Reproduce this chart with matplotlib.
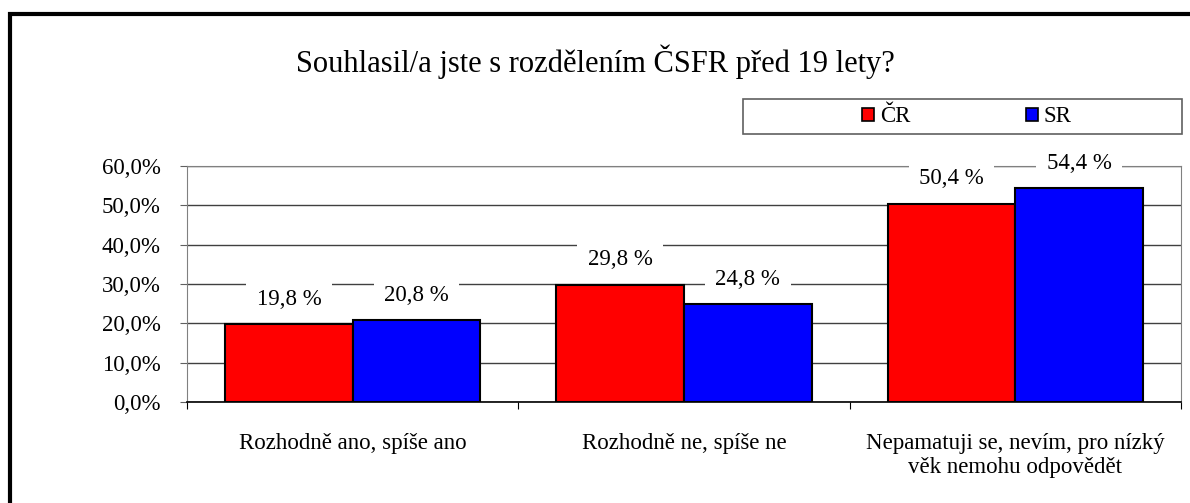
import matplotlib
matplotlib.use("Agg")
from matplotlib import pyplot as plt
from matplotlib.patches import Rectangle, Patch

# data
categories = ["Rozhodně ano, spíše ano", "Rozhodně ne, spíše ne",
              "Nepamatuji se, nevím, pro nízký\nvěk nemohu odpovědět"]
cr_values = [19.8, 29.8, 50.4]
sr_values = [20.8, 24.8, 54.4]
series_names = ["ČR", "SR"]
y_ticks = [0, 10, 20, 30, 40, 50, 60]
title = "Souhlasil/a jste s rozdělením ČSFR před 19 lety?"

plt.rcParams["font.family"] = ["Liberation Serif", "DejaVu Serif"]
fs = 16.5

W, H = 1190, 503
fig = plt.figure(figsize=(W / 100, H / 100), dpi=100)
ax = fig.add_axes([187 / W, 101 / H, (1181 - 187) / W, (402 - 166) / H])

# outer frame of the chart
fig.patches.append(Rectangle((10 / W, -0.2), 1.2, 0.2 + (H - 14) / H,
                             transform=fig.transFigure, fill=False,
                             edgecolor="black", linewidth=3))

w = 0.385
x = list(range(len(categories)))
bars_cr = ax.bar([i - w / 2 for i in x], cr_values, w, color="#ff0000",
                 edgecolor="black", linewidth=1.5, zorder=3)
bars_sr = ax.bar([i + w / 2 for i in x], sr_values, w, color="#0000ff",
                 edgecolor="black", linewidth=1.5, zorder=3)

for bars in (bars_cr, bars_sr):
    for b in bars:
        v = b.get_height()
        ax.annotate(f"{v:.1f} %".replace(".", ","),
                    (b.get_x() + b.get_width() / 2, v),
                    xytext=(0, 18), textcoords="offset points",
                    ha="center", va="center", fontsize=fs, zorder=4,
                    bbox=dict(boxstyle="square,pad=0.45", fc="white", ec="none"))

ax.set_xlim(-0.5, 2.5)
ax.set_ylim(0, 60)
ax.set_yticks(y_ticks)
ax.set_yticklabels([f"{t:.1f}%".replace(".", ",") for t in y_ticks], fontsize=fs)
ax.yaxis.grid(True, color="#404040", linewidth=1, zorder=0)
ax.set_axisbelow(True)

ax.set_xticks([-0.5, 0.5, 1.5, 2.5])
ax.set_xticklabels([])
ax.set_xticks(x, minor=True)
ax.set_xticklabels(categories, minor=True, fontsize=fs, linespacing=1.2)
ax.tick_params(axis="x", which="minor", length=0, pad=22)
ax.tick_params(axis="x", which="major", length=5, color="black")
ax.tick_params(axis="y", length=5, color="#606060", pad=14)

for s in ("left", "right", "top"):
    ax.spines[s].set_color("#808080")
ax.spines["bottom"].set_color("black")
ax.spines["bottom"].set_linewidth(1.2)

fig.text(595 / W, 1 - 62 / H, title, ha="center", va="center", fontsize=22)

# legend box
fig.patches.append(Rectangle((743 / W, 1 - 134 / H), (1182 - 743) / W, 35 / H,
                             transform=fig.transFigure, fill=False,
                             edgecolor="#606060", linewidth=1.2))
handles = [Patch(facecolor="#ff0000", edgecolor="black", linewidth=1.2),
           Patch(facecolor="#0000ff", edgecolor="black", linewidth=1.2)]
fig.legend(handles, series_names, loc="center", bbox_to_anchor=(967 / W, 1 - 117 / H),
           ncol=2, frameon=False, fontsize=fs, handlelength=0.5, handleheight=0.5,
           handletextpad=0.26, columnspacing=5.06)

fig.savefig("out.png", dpi=100)
